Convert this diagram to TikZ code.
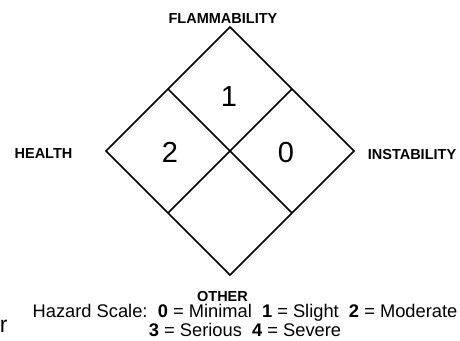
\documentclass[tikz,border=0pt]{standalone}
\usepackage{fontspec}
\setmainfont{Liberation Sans}
\usetikzlibrary{calc}
\begin{document}
\begin{tikzpicture}[x=1pt,y=-1pt,line width=1.6pt]
\tikzstyle hazlabel=[font=\fontsize{14.5}{16}\selectfont\bfseries,anchor=base,inner sep=0pt]
\tikzstyle digit=[font=\fontsize{29}{30}\selectfont,anchor=base,inner sep=0pt]
\tikzstyle scaletext=[font=\fontsize{18.3}{19}\selectfont,anchor=base,inner sep=0pt,align=center]
 \useasboundingbox (0,0) rectangle (460,340);
 % the diamond
 \coordinate (top) at (230,27);
 \coordinate (right) at (354,151);
 \coordinate (bottom) at (230,275);
 \coordinate (left) at (106,151);
 \draw (top) -- (right) -- (bottom) -- (left) -- cycle;
 \draw ($(top)!.5!(left)$) -- ($(right)!.5!(bottom)$);
 \draw ($(top)!.5!(right)$) -- ($(left)!.5!(bottom)$);
 % numbers
 \node[digit] (flamval) at (229,106) {1};
 \node[digit] (healthval) at (170,162) {2};
 \node[digit] (instval) at (286,162) {0};
 % labels
 \node[hazlabel] (flam) at (223,23) {FLAMMABILITY};
 \node[hazlabel] (health) at (43.5,158) {HEALTH};
 \node[hazlabel] (inst) at (412,159) {INSTABILITY};
 \node[hazlabel] (other) at (222.5,301) {OTHER};
 \node[scaletext] (scale) at (245,336) {Hazard Scale:\ \ \textbf{0} = Minimal\ \ \textbf{1} = Slight\ \ \textbf{2} = Moderate\\
   \textbf{3} = Serious\ \ \textbf{4} = Severe};
 \node[font=\fontsize{23}{24}\selectfont,anchor=base west,inner sep=0pt] (stray) at (-1,332) {r};
\end{tikzpicture}
\end{document}
